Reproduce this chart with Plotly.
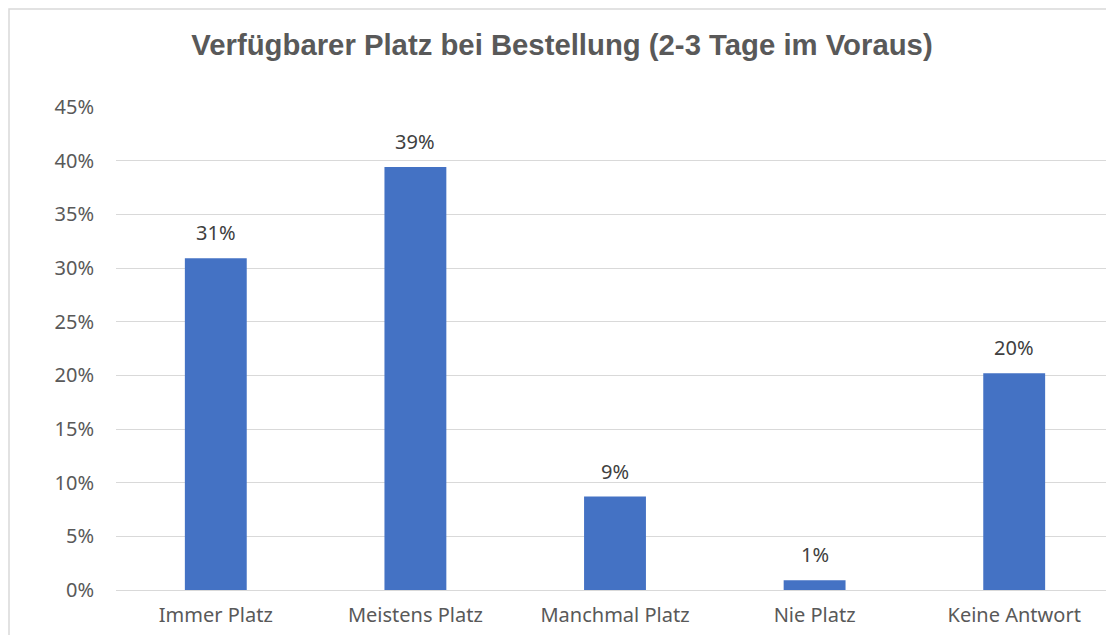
import plotly.graph_objects as go

categories = ["Immer Platz", "Meistens Platz", "Manchmal Platz", "Nie Platz", "Keine Antwort"]
values = [0.309, 0.394, 0.087, 0.009, 0.202]
labels = ["31%", "39%", "9%", "1%", "20%"]
tick_vals = [0, 0.05, 0.10, 0.15, 0.20, 0.25, 0.30, 0.35, 0.40, 0.45]
tick_text = ["0%", "5%", "10%", "15%", "20%", "25%", "30%", "35%", "40%", "45%"]

OFF = 8  # default body margin of the html page
W, H = 1114 - OFF, 635 - OFF
ml, mr, mt, mb = 116 - OFF, 0, 107 - OFF, 45
pw = W - ml - mr
ph = H - mt - mb

FONT = "Noto Sans, Open Sans, sans-serif"

fig = go.Figure(go.Bar(
    x=categories, y=values,
    marker=dict(color="#4472C4", line=dict(width=0)),
    width=0.31,
))

for c, v, t in zip(categories, values, labels):
    fig.add_annotation(x=c, y=v, text=t, showarrow=False, yanchor="bottom", yshift=10,
                       font=dict(family=FONT, size=20, color="#404040"))

fig.update_layout(
    width=W, height=H,
    margin=dict(l=ml, r=mr, t=mt, b=mb),
    paper_bgcolor="white", plot_bgcolor="white",
    title=dict(text="<b>Verfügbarer Platz bei Bestellung (2-3 Tage im Voraus)</b>",
               x=(562 - OFF) / W, xanchor="center", y=1 - (45 - OFF) / H, yanchor="middle",
               font=dict(family="Liberation Sans, Arial, sans-serif", size=29.3, color="#595959")),
    showlegend=False,
    xaxis=dict(showgrid=False, showline=False, ticks="", ticklabelstandoff=11,
               tickfont=dict(family=FONT, size=20, color="#595959")),
    yaxis=dict(range=[0, 0.45], tickvals=tick_vals, ticktext=tick_text,
               showgrid=True, gridcolor="#d9d9d9", gridwidth=1, zeroline=True,
               zerolinecolor="#d9d9d9", zerolinewidth=1, showline=False, ticks="",
               ticklabelstandoff=21,
               tickfont=dict(family=FONT, size=20, color="#595959")),
    shapes=[dict(type="rect", xref="paper", yref="paper",
                 x0=(1 - ml) / pw, x1=(W + 10 - ml) / pw,
                 y0=-(mb + 10) / ph, y1=1 + (mt - 1) / ph,
                 line=dict(color="#d9d9d9", width=1.5), fillcolor="rgba(0,0,0,0)", layer="below")],
)

fig.write_html("out.html")
